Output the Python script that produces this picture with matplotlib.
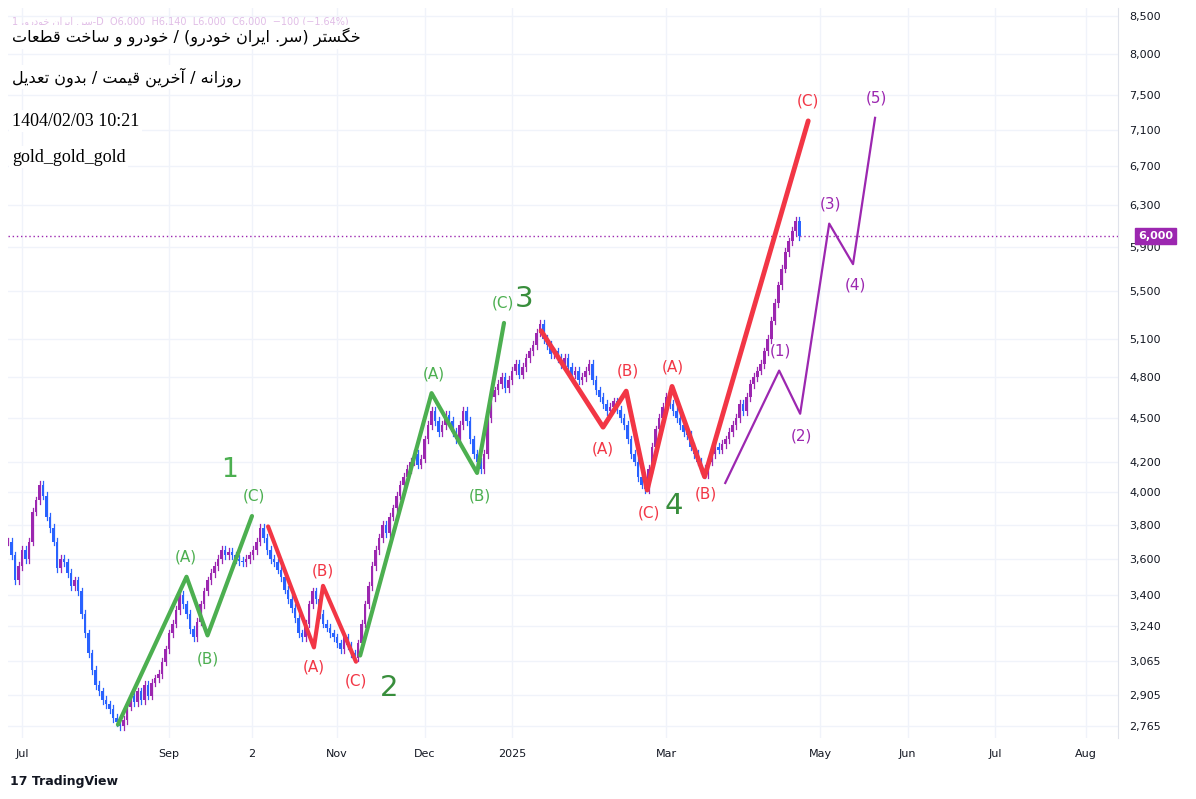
import matplotlib
matplotlib.use("Agg")
import matplotlib.pyplot as plt
import numpy as np

W, H = 1196, 799
first_bar = -4
closes = [3700,3620,3480,3560,3650,3600,3700,3880,3950,4050,
3980,3850,3780,3700,3550,3600,3580,3520,3450,3480,
3420,3300,3200,3100,3020,2950,2920,2880,2860,2840,
2800,2780,2765,2790,2850,2900,2870,2920,2880,2950,
2900,2960,2980,3000,3060,3120,3200,3250,3320,3400,
3350,3300,3220,3180,3260,3350,3420,3480,3520,3560,
3600,3650,3620,3640,3620,3600,3590,3580,3600,3620,
3650,3700,3780,3720,3650,3600,3580,3540,3500,3430,
3380,3330,3280,3200,3180,3250,3350,3420,3380,3300,
3250,3230,3200,3180,3150,3120,3180,3140,3100,3080,
3150,3250,3350,3450,3560,3650,3720,3800,3750,3850,
3900,3980,4050,4100,4150,4200,4250,4180,4220,4350,
4450,4550,4480,4400,4450,4520,4480,4400,4350,4450,
4550,4480,4350,4250,4200,4150,4250,4500,4650,4700,
4750,4800,4720,4780,4850,4900,4820,4880,4950,5000,
5050,5150,5220,5100,5050,4980,5000,4950,4900,4950,
4880,4820,4850,4780,4800,4850,4900,4780,4700,4650,
4600,4550,4580,4620,4560,4500,4450,4350,4250,4200,
4100,4050,4020,4150,4300,4420,4500,4580,4650,4600,
4550,4500,4450,4400,4380,4300,4250,4200,4150,4120,
4200,4250,4300,4280,4320,4350,4400,4450,4500,4600,
4550,4650,4750,4800,4850,4900,5000,5100,5250,5400,
5550,5700,5850,5950,6050,6150,6000]

price_ticks = [8500,8000,7500,7100,6700,6300,5900,5500,5100,4800,4500,4200,4000,3800,3600,3400,3240,3065,2905,2765]
month_labels = ["Jul","Sep","2","Nov","Dec","2025","Mar","May","Jun","Jul","Aug"]
month_bars = [0,42,65.7,90,115,140,184,228,253,278,304]

green1_x = [27.4,47,53,65.7]; green1_y = [2770,3500,3190,3853]
red2_x = [70.3,83.4,86,95.4]; red2_y = [3790,3130,3450,3060]
green3_x = [96.6,117,130,137.7]; green3_y = [3090,4680,4125,5230]
red4_x = [148.3,166,172.6,178.6,185.7,195,224.6]; red4_y = [5165,4435,4695,4015,4730,4100,7200]
purple_x = [200.9,216.3,222.3,230.6,237.4,243.7]; purple_y = [4060,4850,4530,6120,5740,7235]

last_price = 6000

FORMS = {
 "ا": (0xFE8D, 0xFE8E, None, None), "آ": (0xFE81, 0xFE82, None, None),
 "ب": (0xFE8F, 0xFE90, 0xFE91, 0xFE92), "ت": (0xFE95, 0xFE96, 0xFE97, 0xFE98),
 "خ": (0xFEA5, 0xFEA6, 0xFEA7, 0xFEA8), "د": (0xFEA9, 0xFEAA, None, None),
 "ر": (0xFEAD, 0xFEAE, None, None), "ز": (0xFEAF, 0xFEB0, None, None),
 "س": (0xFEB1, 0xFEB2, 0xFEB3, 0xFEB4), "ط": (0xFEC1, 0xFEC2, 0xFEC3, 0xFEC4),
 "ع": (0xFEC9, 0xFECA, 0xFECB, 0xFECC), "ف": (0xFED1, 0xFED2, 0xFED3, 0xFED4),
 "ق": (0xFED5, 0xFED6, 0xFED7, 0xFED8), "ل": (0xFEDD, 0xFEDE, 0xFEDF, 0xFEE0),
 "م": (0xFEE1, 0xFEE2, 0xFEE3, 0xFEE4), "ن": (0xFEE5, 0xFEE6, 0xFEE7, 0xFEE8),
 "ه": (0xFEE9, 0xFEEA, 0xFEEB, 0xFEEC), "و": (0xFEED, 0xFEEE, None, None),
 "ی": (0xFBFC, 0xFBFD, 0xFBFE, 0xFBFF), "گ": (0xFB92, 0xFB93, 0xFB94, 0xFB95),
}

def shape(s):
    out = []
    n = len(s)
    for i, ch in enumerate(s):
        if ch not in FORMS:
            out.append(ch); continue
        iso, fin, ini, med = FORMS[ch]
        prev = s[i-1] if i > 0 else ""
        nxt = s[i+1] if i < n-1 else ""
        jp = prev in FORMS and FORMS[prev][2] is not None
        jn = nxt in FORMS and ini is not None
        if jp and jn: c = med
        elif jp: c = fin
        elif jn: c = ini
        else: c = iso
        out.append(chr(c))
    r = "".join(out)[::-1]
    return r.translate(str.maketrans("()", ")("))

fig = plt.figure(figsize=(W/100, H/100), dpi=100)
ax = fig.add_axes([8/W, (H-738)/H, (1118-8)/W, (738-8)/H])
ax.set_yscale("log")
ymax = 8500*np.exp(8/632); ymin = 8500*np.exp(-722/632)
ax.set_ylim(ymin, ymax)
ax.set_xlim(-4, 313.1)

def px(x, y):
    return (-4 + (x-8)/3.5, 8500*np.exp(-(y-16)/632))

for t in price_ticks:
    ax.axhline(t, color="#f0f3fa", lw=1, zorder=0)
for b in month_bars:
    ax.axvline(b, color="#f0f3fa", lw=1, zorder=0)

blue = "#2962ff"; purp = "#9c27b0"
prev = closes[0]
for i, c in enumerate(closes):
    b = first_bar + i
    o = prev
    hi = max(o, c)*1.006; lo = min(o, c)*0.994
    col = purp if c >= o else blue
    ax.plot([b, b], [lo, hi], color=col, lw=0.9, zorder=2)
    bot, top = min(o, c), max(o, c)
    if top/bot < 1.003:
        top = bot*1.003
    ax.add_patch(plt.Rectangle((b-0.4, bot), 0.8, top-bot, color=col, zorder=3, lw=0))
    prev = c

green = "#4caf50"; red = "#f23645"; vio = "#9c27b0"
ax.plot(green1_x, green1_y, color=green, lw=3, zorder=4, solid_capstyle="round")
ax.plot(green3_x, green3_y, color=green, lw=3, zorder=4, solid_capstyle="round")
ax.plot(red2_x, red2_y, color=red, lw=3, zorder=4, solid_capstyle="round")
ax.plot(red4_x, red4_y, color=red, lw=3.5, zorder=4, solid_capstyle="round")
ax.plot(purple_x, purple_y, color=vio, lw=1.6, zorder=4)
ax.axhline(last_price, color=vio, lw=1, ls=(0, (1, 2)), zorder=1)

def lab(x, y, s, col, size=11):
    ax.text(*px(x, y), s, color=col, fontsize=size, ha="center", va="center", zorder=5, family="DejaVu Sans")

for x, y, s in [(186,557,"(A)"),(208,659,"(B)"),(254,496,"(C)"),(434,374,"(A)"),(480,496,"(B)"),(503,303,"(C)")]:
    lab(x, y, s, green)
for x, y, s in [(314,667,"(A)"),(323,571,"(B)"),(356,681,"(C)"),(603,449,"(A)"),(628,371,"(B)"),(649,513,"(C)"),(673,367,"(A)"),(706,494,"(B)"),(808,101,"(C)")]:
    lab(x, y, s, red)
for x, y, s in [(780,351,"(1)"),(801,436,"(2)"),(830,204,"(3)"),(855,285,"(4)"),(876,98,"(5)")]:
    lab(x, y, s, vio)
lab(229, 470, "1", green, 19)
lab(524, 299, "3", "#388e3c", 21)
lab(389, 688, "2", "#388e3c", 21)
lab(674, 506, "4", "#388e3c", 21)

ax.set_yticks(price_ticks)
ax.set_yticklabels([f"{t:,}" for t in price_ticks])
ax.yaxis.tick_right()
ax.minorticks_off()
ax.set_xticks(month_bars)
ax.set_xticklabels(month_labels)
ax.tick_params(axis="both", length=0, labelsize=8, colors="#131722", pad=8)
for s in ["top", "left", "bottom"]:
    ax.spines[s].set_visible(False)
ax.spines["right"].set_color("#e0e3eb")
ax.text(1.0+20/1110, last_price, "6,000", transform=ax.get_yaxis_transform(), color="white", fontsize=8,
        ha="left", va="center", fontweight="bold",
        bbox=dict(boxstyle="square,pad=0.3", fc=vio, ec=vio), zorder=6, clip_on=False)

fig.text(12/W, 1-22/H, "1 ," + shape("سر. ایران خودرو") + "-D  O6,000  H6,140  L6,000  C6,000  −100 (−1.64%)",
         fontsize=7, color="#e1bee7", va="center")
for y, s in [(37, "خگستر (سر. ایران خودرو) / خودرو و ساخت قطعات"),
             (77, "روزانه / آخرین قیمت / بدون تعدیل")]:
    fig.text(12/W, 1-y/H, shape(s), fontsize=11.5, color="black", va="center", family="DejaVu Sans",
             bbox=dict(fc="white", ec="none", pad=2))
fig.text(12/W, 1-121/H, "1404/02/03 10:21", fontsize=13, color="black", va="center", family="Liberation Serif",
         bbox=dict(fc="white", ec="none", pad=2))
fig.text(12/W, 1-157/H, "gold_gold_gold", fontsize=13, color="black", va="center", family="Liberation Serif",
         bbox=dict(fc="white", ec="none", pad=2))
fig.text(10/W, 1-781/H, "17 TradingView", fontsize=9, color="#131722", va="center", fontweight="bold")

fig.savefig("out.png", dpi=100)
